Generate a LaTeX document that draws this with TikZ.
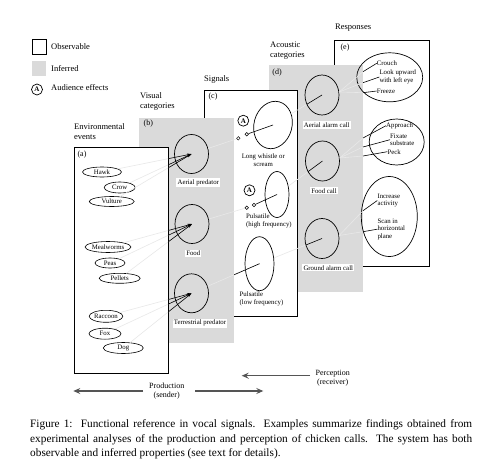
\documentclass[tikz,border=0pt]{standalone}
\usepackage{fontspec}
\setmainfont{Liberation Serif}
\usetikzlibrary{shapes.geometric,arrows.meta}
\definecolor{panelgray}{RGB}{218,218,218}
\definecolor{lightln}{RGB}{232,232,232}
\definecolor{arrowgray}{RGB}{85,85,85}
\definecolor{shadowgray}{RGB}{120,120,120}
\begin{document}
\begin{tikzpicture}[x=1pt,y=-1pt,
  whitepanel/.style={draw=black, fill=white, line width=0.7pt},
  graypanel/.style={fill=panelgray, draw=none},
  ev/.style={ellipse, draw, line width=0.6pt, inner sep=0pt, font=\fontsize{6.8}{7}\selectfont},
  cat/.style={ellipse, draw, line width=0.7pt, inner sep=0pt, minimum width=34pt, minimum height=39pt},
  lbl/.style={fill=white, inner sep=1.2pt, font=\fontsize{6.8}{7}\selectfont},
  sig/.style={align=left, inner sep=0pt, font=\fontsize{6.8}{8}\selectfont},
  resp/.style={align=left, inner sep=0pt, anchor=west, font=\fontsize{6.8}{7.6}\selectfont},
  ttl/.style={align=left, anchor=west, inner sep=0pt, font=\fontsize{8.5}{9.5}\selectfont},
  plabel/.style={inner sep=0pt, font=\fontsize{8}{9}\selectfont},
  lightline/.style={draw=lightln, line width=0.6pt},
  darkline/.style={draw=black, line width=0.6pt},
  swc/.style={circle, draw, fill=white, inner sep=0pt, minimum size=3.5pt, line width=0.5pt},
  audc/.style={circle, draw, line width=0.7pt, inner sep=0pt, minimum size=11pt, font=\fontsize{7}{7}\selectfont\bfseries},
  bigarrow/.style={draw=arrowgray, line width=1.1pt, -{Stealth[length=7pt,width=6pt,inset=2.5pt]}},
  capline/.style={anchor=west, inner sep=0pt, font=\fontsize{11.3}{13}\selectfont},
]
\useasboundingbox (0,0) rectangle (487,463);

% ---------- panels (back to front) ----------
\fill[shadowgray] (335.3,41.3) rectangle (430.3,267.3);
\draw[whitepanel] (334,40) rectangle (429,266);
\fill[graypanel] (269,65) rectangle (363,292);
\fill[shadowgray] (205.3,91.3) rectangle (298.3,317.3);
\draw[whitepanel] (204,90) rectangle (297,316);
\fill[graypanel] (139,118) rectangle (234,343);
\fill[shadowgray] (75.3,148.3) rectangle (169.3,374.3);
\draw[whitepanel] (74,147) rectangle (168,373);

% ---------- legend ----------
\node[draw, line width=0.7pt, minimum width=14pt, minimum height=15pt, inner sep=0pt] (lgobs) at (39,46.5) {};
\node[fill=panelgray, minimum width=14pt, minimum height=15pt, inner sep=0pt] (lginf) at (39,68.5) {};
\node[audc] (lga) at (37,89.5) {A};
\node[ttl] (lgobst) at (51,46.5) {Observable};
\node[ttl] (lginft) at (51,68.5) {Inferred};
\node[ttl] (lgat) at (51,88) {Audience effects};

% ---------- titles ----------
\node[ttl] (t1) at (74,131.5) {Environmental\\events};
\node[ttl] (t2) at (140,101.3) {Visual\\categories};
\node[ttl] (t3) at (204,79.3) {Signals};
\node[ttl] (t4) at (270,50.5) {Acoustic\\categories};
\node[ttl] (t5) at (335,28) {Responses};

\node[plabel] (pa) at (82,155) {(a)};
\node[plabel] (pb) at (148.3,124) {(b)};
\node[plabel] (pc) at (213,97) {(c)};
\node[plabel] (pd) at (277,72.5) {(d)};
\node[plabel] (pe) at (345,47.5) {(e)};

% ---------- (a) environmental events ----------
\node[ev, minimum width=39pt, minimum height=10pt] (hawk) at (102,172) {Hawk};
\node[ev, minimum width=31pt, minimum height=11pt] (crow) at (119.7,187.5) {Crow};
\node[ev, minimum width=45pt, minimum height=10pt] (vulture) at (111.7,201.5) {Vulture};
\node[ev, minimum width=44pt, minimum height=11pt] (meal) at (108,247) {Mealworms};
\node[ev, minimum width=30pt, minimum height=10pt] (peas) at (110,263) {Peas};
\node[ev, minimum width=41pt, minimum height=10pt] (pellets) at (119.7,278.3) {Pellets};
\node[ev, minimum width=33pt, minimum height=12pt] (raccoon) at (106,316.3) {Raccoon};
\node[ev, minimum width=32pt, minimum height=11pt] (fox) at (105,333.7) {Fox};
\node[ev, minimum width=40pt, minimum height=11pt] (dog) at (123.3,348) {Dog};

% ---------- (b) visual categories ----------
\node[cat] (ap) at (191.5,154) {};
\node[cat] (food) at (192,224) {};
\node[cat] (terr) at (191.5,293.3) {};

\foreach \s/\t in {hawk/ap, crow/ap, vulture/ap, meal/food, peas/food, pellets/food, raccoon/terr, fox/terr, dog/terr}{
  \begin{scope}
    \clip (168,0) rectangle (240,400);
    \draw[darkline, -{Stealth[length=4.5pt,width=2.6pt]}] (\s) -- (\t.center);
  \end{scope}
  \begin{scope}
    \clip (0,0) rectangle (168,400);
    \draw[lightline] (\s) -- (\t.center);
  \end{scope}
}

\node[lbl] (aplbl) at (198.3,182.7) {Aerial predator};
\node[lbl] (foodlbl) at (193.3,253.3) {Food};
\node[lbl] (terrlbl) at (200,323.3) {Terrestrial predator};

% ---------- (c) signals ----------
\node[cat, minimum width=38pt, minimum height=48pt, rotate=-15] (lw) at (273,125) {};
\node[cat, minimum width=24pt, minimum height=46pt] (ph) at (277,194.5) {};
\node[cat, minimum width=29pt, minimum height=54pt] (pl) at (259.5,263.7) {};

\node[swc] (s1a) at (238.3,138.3) {};
\node[swc] (s1b) at (246.7,134.3) {};
\node[audc] (a1) at (243.3,120.7) {A};
\node[swc] (s2a) at (246.7,207.7) {};
\node[swc] (s2b) at (254,205) {};
\node[audc] (a2) at (249.5,190.3) {A};

\draw[lightline] (ap) -- (s1a);
\draw[darkline] (s1b) -- (lw.center);
\draw[lightline] (food) -- (s2a);
\draw[darkline] (s2b) -- (ph.center);
\draw[lightline] (terr) -- (pl.center);
\begin{scope}
  \clip (234,0) rectangle (300,400);
  \draw[darkline] (terr.center) -- (pl.center);
\end{scope}

\node[sig, align=center] (lwlbl) at (263.3,159.7) {Long whistle or\\scream};
\node[sig, anchor=west] (phlbl) at (246,221.2) {Pulsatile\\(high frequency)};
\node[sig, anchor=west] (pllbl) at (239.5,299.2) {Pulsatile\\(low frequency)};

% ---------- (d) acoustic categories ----------
\node[cat, minimum height=40pt] (aac) at (322,95) {};
\node[cat, minimum height=40pt] (fc) at (322.5,161) {};
\node[cat, minimum height=40pt] (gac) at (322,238.5) {};

\draw[lightline] (aac) -- coordinate[pos=0] (aacb) (lw);
\draw[darkline] (aac.center) -- (aacb);
\draw[lightline] (fc) -- coordinate[pos=0] (fcb) (ph);
\draw[darkline] (fc.center) -- (fcb);
\draw[lightline] (gac) -- coordinate[pos=0] (gacb) (pl);
\draw[darkline] (gac.center) -- (gacb);

\node[lbl] (aaclbl) at (326.7,125) {Aerial alarm call};
\node[lbl] (fclbl) at (324,190.7) {Food call};
\node[lbl] (gaclbl) at (328.3,267.7) {Ground alarm call};

% ---------- (e) responses ----------
\node[cat, minimum width=66pt, minimum height=49pt] (r1) at (389.7,77.3) {};
\node[cat, minimum width=55pt, minimum height=46pt] (r2) at (396.7,142) {};
\node[cat, minimum width=56pt, minimum height=80pt] (r3) at (389.3,216.5) {};

\node[resp] (crouch) at (376.7,63.3) {Crouch};
\node[resp] (lookup) at (379.3,77) {Look upward\\with left eye};
\node[resp] (freeze) at (376.7,91) {Freeze};
\node[resp] (approach) at (386,125.7) {Approach};
\node[resp] (fixate) at (390,139.7) {Fixate\\substrate};
\node[resp] (peck) at (387.3,151.7) {Peck};
\node[resp] (increase) at (377.3,200.5) {Increase\\activity};
\node[resp] (scan) at (377.3,229.2) {Scan in\\horizontal\\plane};

\coordinate (j1) at (363,71.7);
\coordinate (j2) at (363,82.7);
\coordinate (j3) at (363,92.7);
\coordinate (j4) at (363,138);
\coordinate (j5) at (363,147);
\coordinate (j6) at (363,156);
\coordinate (j7) at (363,210.7);
\coordinate (j8) at (363,231.7);

\foreach \src/\j/\txt in {aac/j1/crouch, aac/j2/lookup, aac/j3/freeze, fc/j4/approach, fc/j5/fixate, fc/j6/peck, gac/j7/increase, gac/j8/scan}{
  \draw[lightline] (\src.10) -- (\j);
  \draw[darkline] (\j) -- (\txt.west);
}

% ---------- production / perception ----------
\node[plabel, align=center] (prod) at (166.7,391) {Production\\(sender)};
\coordinate (prodLa) at (143,391);
\coordinate (prodLb) at (73.3,391);
\coordinate (prodRa) at (195,391);
\coordinate (prodRb) at (263.3,391);
\draw[bigarrow] (prodLa) -- (prodLb);
\draw[bigarrow] (prodRa) -- (prodRb);

\node[plabel, align=center] (perc) at (332.7,378) {Perception\\(receiver)};
\coordinate (percA) at (310,375.7);
\coordinate (percB) at (241.7,375.7);
\draw[bigarrow] (percA) -- (percB);

% ---------- caption ----------
\node[capline] (cap1) at (30,425) {\makebox[442pt][s]{Figure 1:\ \ Functional reference in vocal signals.\ \ Examples summarize findings obtained from}};
\node[capline] (cap2) at (30,439.5) {\makebox[442pt][s]{experimental analyses of the production and perception of chicken calls.\ \ The system has both}};
\node[capline] (cap3) at (30,453.5) {observable and inferred properties (see text for details).};
\end{tikzpicture}
\end{document}
